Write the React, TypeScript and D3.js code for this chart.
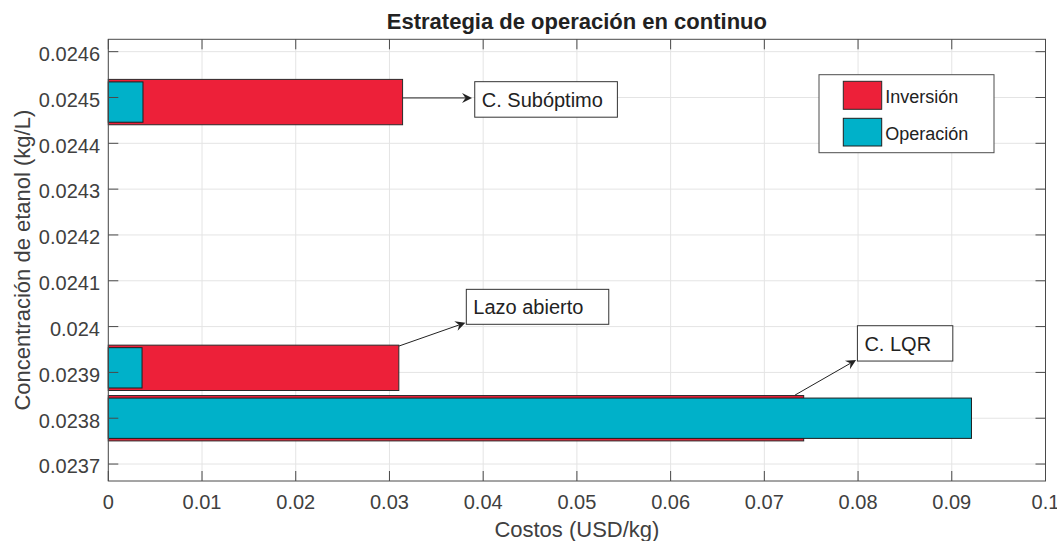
import React from "react";
import * as d3 from "d3";

// Ethanol concentration of each control strategy (kg/L)
const strategies = ["C. Subóptimo", "Lazo abierto", "C. LQR"];
const concentration = [0.02449, 0.02391, 0.0238];
// Cost components (USD/kg)
const inversion = [0.0314, 0.031, 0.0742];
const operacion = [0.0037, 0.0036, 0.0921];

const xTicks = [0, 0.01, 0.02, 0.03, 0.04, 0.05, 0.06, 0.07, 0.08, 0.09, 0.1];
const xTickLabels = ["0", "0.01", "0.02", "0.03", "0.04", "0.05", "0.06", "0.07", "0.08", "0.09", "0.1"];
const yTicks = [0.0237, 0.0238, 0.0239, 0.024, 0.0241, 0.0242, 0.0243, 0.0244, 0.0245, 0.0246];
const yTickLabels = ["0.0237", "0.0238", "0.0239", "0.024", "0.0241", "0.0242", "0.0243", "0.0244", "0.0245", "0.0246"];

// Callouts in data coordinates: arrow tail -> arrow head, and the text box extent
const callouts = [
  { label: strategies[0], from: [0.03142, 0.024499], to: [0.03881, 0.024499], box: [0.0391, 0.05432, 0.0245345, 0.024457] },
  { label: strategies[1], from: [0.03102, 0.0239576], to: [0.0381, 0.0240084], box: [0.0382, 0.0534, 0.0240813, 0.024005] },
  { label: strategies[2], from: [0.07328, 0.0238506], to: [0.07979, 0.023927], box: [0.07993, 0.09011, 0.0240019, 0.0239248] },
];

const W = 1057;
const H = 541;
const plot = { left: 108.3, right: 1045.5, top: 39.3, bottom: 481 };
const FONT = "'Liberation Sans', Arial, Helvetica, sans-serif";
const RED = "#ED2039";
const CYAN = "#00B1C9";
const AXIS = "#4a4a4a";
const TEXT = "#404040";
const GRID = "#e4e4e4";

function Arrow({ x1, y1, x2, y2 }: { x1: number; y1: number; x2: number; y2: number }) {
  const dx = x2 - x1;
  const dy = y2 - y1;
  const len = Math.hypot(dx, dy);
  const ux = dx / len;
  const uy = dy / len;
  const px = -uy;
  const py = ux;
  const headL = 10;
  const headW = 5;
  const notch = 6.5;
  const bx = x2 - ux * headL;
  const by = y2 - uy * headL;
  const nx = x2 - ux * notch;
  const ny = y2 - uy * notch;
  const pts = [
    [x2, y2],
    [bx + px * headW, by + py * headW],
    [nx, ny],
    [bx - px * headW, by - py * headW],
  ];
  return (
    <g>
      <line x1={x1} y1={y1} x2={nx} y2={ny} stroke="#222" strokeWidth={1} />
      <polygon points={pts.map((p) => p.join(",")).join(" ")} fill="#222" />
    </g>
  );
}

export default function App() {
  const x = d3.scaleLinear().domain([0, 0.1]).range([plot.left, plot.right]);
  const y = d3.scaleLinear().domain([0.023663, 0.024627]).range([plot.bottom, plot.top]);

  const sorted = [...concentration].sort((a, b) => a - b);
  const minGap = d3.min(d3.pairs(sorted), ([a, b]) => b - a) as number;
  const band = (c: number, frac: number) => {
    const half = (minGap * frac) / 2;
    return { y0: y(c + half), y1: y(c - half) };
  };

  const tickLen = 10;

  return (
    <svg
      width={W}
      height={H}
      style={{ position: "absolute", left: 0, top: 0, background: "#fff" }}
      fontFamily={FONT}
    >
      <rect x={0} y={0} width={W} height={H} fill="#fff" />

      {/* grid */}
      <g>
        {xTicks.map((t, i) => (
          <line key={"gx" + i} x1={x(t)} x2={x(t)} y1={plot.top} y2={plot.bottom} stroke={GRID} strokeWidth={1} />
        ))}
        {yTicks.map((t, i) => (
          <line key={"gy" + i} x1={plot.left} x2={plot.right} y1={y(t)} y2={y(t)} stroke={GRID} strokeWidth={1} />
        ))}
      </g>

      {/* bars: investment first, operation on top */}
      <g>
        {concentration.map((c, i) => {
          const b = band(c, 0.9);
          return (
            <rect
              key={"inv" + i}
              x={x(0)}
              y={b.y0}
              width={x(inversion[i]) - x(0)}
              height={b.y1 - b.y0}
              fill={RED}
              stroke="#2a2a2a"
              strokeWidth={1}
            />
          );
        })}
        {concentration.map((c, i) => {
          const b = band(c, 0.8);
          return (
            <rect
              key={"op" + i}
              x={x(0)}
              y={b.y0}
              width={x(operacion[i]) - x(0)}
              height={b.y1 - b.y0}
              fill={CYAN}
              stroke="#1e1e1e"
              strokeWidth={1}
            />
          );
        })}
      </g>

      {/* axes box and ticks */}
      <g stroke={AXIS} strokeWidth={1} fill="none">
        <rect x={plot.left} y={plot.top} width={plot.right - plot.left} height={plot.bottom - plot.top} />
        {xTicks.map((t, i) => (
          <g key={"tx" + i}>
            <line x1={x(t)} x2={x(t)} y1={plot.bottom} y2={plot.bottom - tickLen} />
            <line x1={x(t)} x2={x(t)} y1={plot.top} y2={plot.top + tickLen} />
          </g>
        ))}
        {yTicks.map((t, i) => (
          <g key={"ty" + i}>
            <line x1={plot.left} x2={plot.left + tickLen} y1={y(t)} y2={y(t)} />
            <line x1={plot.right} x2={plot.right - tickLen} y1={y(t)} y2={y(t)} />
          </g>
        ))}
      </g>

      {/* tick labels */}
      <g fill={TEXT} fontSize={20}>
        {xTicks.map((t, i) => (
          <text key={"lx" + i} x={x(t)} y={509.3} textAnchor="middle">
            {xTickLabels[i]}
          </text>
        ))}
        {yTicks.map((t, i) => (
          <text key={"ly" + i} x={100} y={y(t) + 9.3} textAnchor="end">
            {yTickLabels[i]}
          </text>
        ))}
      </g>

      {/* axis labels and title */}
      <text x={(plot.left + plot.right) / 2} y={537} textAnchor="middle" fontSize={22} fill={TEXT}>
        Costos (USD/kg)
      </text>
      <text
        transform={`translate(29.5, ${(plot.top + plot.bottom) / 2}) rotate(-90)`}
        textAnchor="middle"
        fontSize={22}
        fill={TEXT}
      >
        Concentración de etanol (kg/L)
      </text>
      <text x={(plot.left + plot.right) / 2} y={29.3} textAnchor="middle" fontSize={22} fontWeight="bold" fill="#222">
        Estrategia de operación en continuo
      </text>

      {/* callouts */}
      <g>
        {callouts.map((c, i) => {
          const bx0 = x(c.box[0]);
          const bx1 = x(c.box[1]);
          const by0 = y(c.box[2]);
          const by1 = y(c.box[3]);
          return (
            <g key={"co" + i}>
              <Arrow x1={x(c.from[0])} y1={y(c.from[1])} x2={x(c.to[0])} y2={y(c.to[1])} />
              <rect x={bx0} y={by0} width={bx1 - bx0} height={by1 - by0} fill="#fff" stroke="#333" strokeWidth={1} />
              <text x={bx0 + 7} y={by1 - 10} fontSize={20} fill="#222">
                {c.label}
              </text>
            </g>
          );
        })}
      </g>

      {/* legend */}
      <g>
        <rect x={819} y={74.7} width={175} height={78} fill="#fff" stroke="#4d4d4d" strokeWidth={1} />
        <rect x={843.3} y={81.3} width={38.4} height={28} fill={RED} stroke="#2a2a2a" strokeWidth={1} />
        <rect x={843.3} y={118.3} width={38.4} height={27.7} fill={CYAN} stroke="#1e1e1e" strokeWidth={1} />
        <text x={885.3} y={103.3} fontSize={18} fill="#222">
          Inversión
        </text>
        <text x={885.3} y={140} fontSize={18} fill="#222">
          Operación
        </text>
      </g>
    </svg>
  );
}
